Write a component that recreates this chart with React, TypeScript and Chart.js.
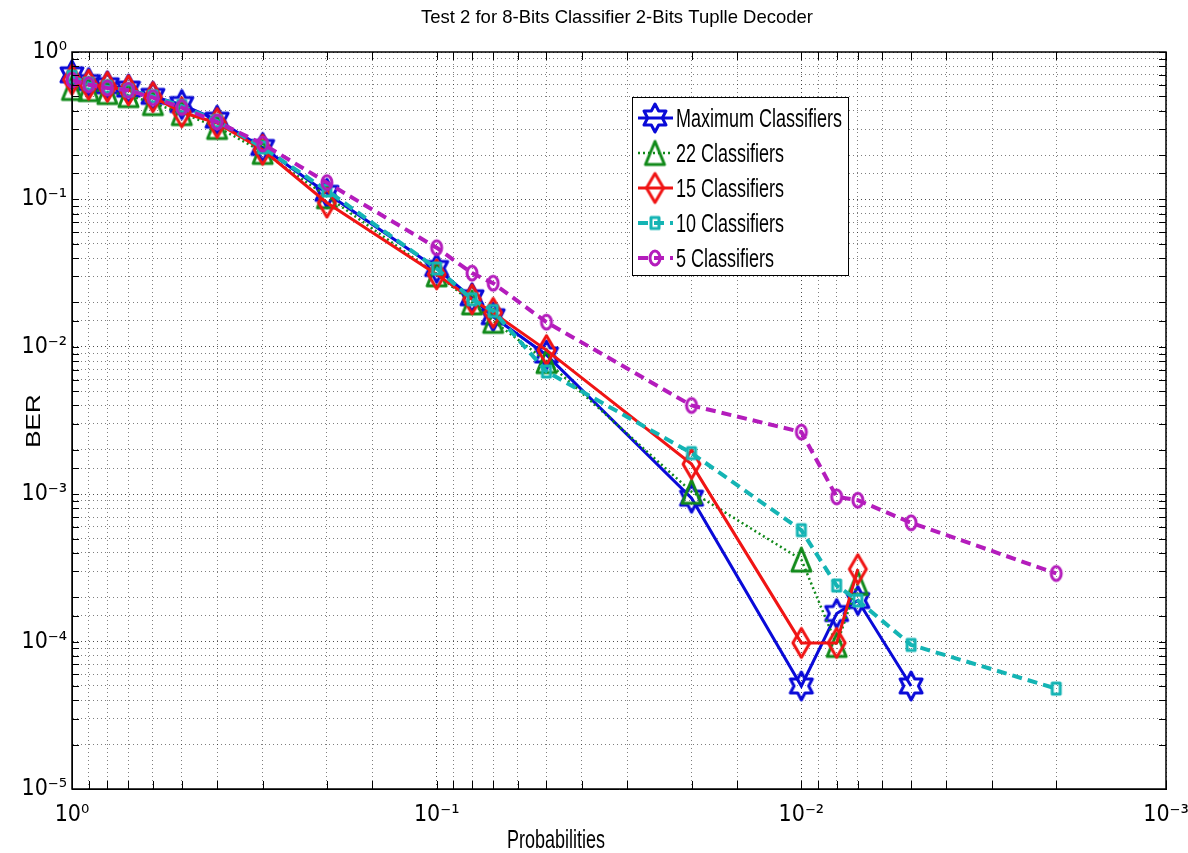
import React, { useEffect, useRef } from "react";
import { Chart, registerables } from "chart.js";

Chart.register(...registerables);

// ---------------- data ----------------
const probabilities = [1, 0.9, 0.8, 0.7, 0.6, 0.5, 0.4, 0.3, 0.2, 0.1, 0.08, 0.07, 0.05, 0.02, 0.01, 0.008, 0.007, 0.005, 0.002];
const berMaximum = [0.7, 0.62, 0.59, 0.56, 0.5, 0.44, 0.345, 0.225, 0.11, 0.034, 0.0215, 0.016, 0.0088, 0.00094, 0.00005, 0.000155, 0.00019, 0.00005];
const ber22 = [0.57, 0.56, 0.535, 0.51, 0.45, 0.385, 0.31, 0.21, 0.105, 0.031, 0.02, 0.015, 0.008, 0.00104, 0.00036, 0.000095, 0.00025];
const ber15 = [0.65, 0.6, 0.58, 0.55, 0.495, 0.39, 0.33, 0.217, 0.095, 0.031, 0.021, 0.017, 0.0095, 0.0016, 0.000098, 0.000098, 0.00031];
const ber10 = [0.68, 0.61, 0.58, 0.55, 0.5, 0.43, 0.34, 0.225, 0.115, 0.034, 0.021, 0.0175, 0.0068, 0.0019, 0.00057, 0.00024, 0.00019, 0.000095, 0.000048];
const ber5 = [0.645, 0.6, 0.57, 0.55, 0.49, 0.42, 0.335, 0.238, 0.13, 0.047, 0.0316, 0.027, 0.0147, 0.004, 0.00264, 0.00096, 0.00091, 0.00064, 0.00029];
const seriesLabels = ["Maximum Classifiers", "22 Classifiers", "15 Classifiers", "10 Classifiers", "5 Classifiers"];
const chartTitle = "Test 2 for 8-Bits Classifier 2-Bits Tuplle Decoder";
const xAxisTitle = "Probabilities";
const yAxisTitle = "BER";

// ---------------- styles ----------------
const SANS = '"Liberation Sans", Arial, Helvetica, sans-serif';
const NARROW = '"Liberation Sans Narrow", "DejaVu Sans Condensed", "Liberation Sans", Arial, sans-serif';

const seriesStyles = [
  { color: "#0a0ad8", width: 3, dash: [] as number[], marker: "hexagram", mw: 22, mh: 28 },
  { color: "#118a1a", width: 2.5, dash: [2, 3], marker: "triangle", mw: 19, mh: 23 },
  { color: "#f01414", width: 3, dash: [] as number[], marker: "diamond", mw: 17, mh: 29 },
  { color: "#14b4b4", width: 4, dash: [10, 6], marker: "square", mw: 8, mh: 11 },
  { color: "#b41cbc", width: 4, dash: [10, 6], marker: "circle", mw: 10, mh: 14 },
];

function makeMarker(kind: string, color: string, w: number, h: number, lw: number) {
  const pad = Math.ceil(lw) + 2;
  const c = document.createElement("canvas");
  c.width = Math.round(w + pad * 2);
  c.height = Math.round(h + pad * 2);
  const g = c.getContext("2d")!;
  g.translate(c.width / 2, c.height / 2);
  g.strokeStyle = color;
  g.lineWidth = lw;
  g.lineJoin = "round";
  g.beginPath();
  if (kind === "hexagram") {
    const R = h / 2;
    const sx = w / 2 / (R * Math.cos(Math.PI / 6));
    for (let i = 0; i < 12; i++) {
      const a = -Math.PI / 2 + (i * Math.PI) / 6;
      const r = i % 2 === 0 ? R : R / Math.sqrt(3);
      const x = Math.cos(a) * r * sx;
      const y = Math.sin(a) * r;
      if (i === 0) g.moveTo(x, y);
      else g.lineTo(x, y);
    }
    g.closePath();
  } else if (kind === "triangle") {
    g.moveTo(0, -h / 2);
    g.lineTo(w / 2, h / 2);
    g.lineTo(-w / 2, h / 2);
    g.closePath();
  } else if (kind === "diamond") {
    g.moveTo(0, -h / 2);
    g.lineTo(w / 2, 0);
    g.lineTo(0, h / 2);
    g.lineTo(-w / 2, 0);
    g.closePath();
  } else if (kind === "square") {
    g.rect(-w / 2, -h / 2, w, h);
  } else {
    g.ellipse(0, 0, w / 2, h / 2, 0, 0, Math.PI * 2);
  }
  g.stroke();
  return c;
}

const SUP: Record<string, string> = {
  "-": "\u207B", "0": "\u2070", "1": "\u00B9", "2": "\u00B2", "3": "\u00B3",
  "4": "\u2074", "5": "\u2075", "6": "\u2076", "7": "\u2077", "8": "\u2078", "9": "\u2079",
};
function isDecade(v: number) {
  const l = Math.log10(v);
  return Math.abs(l - Math.round(l)) < 1e-6;
}
function powLabel(v: number) {
  if (!isDecade(v)) return "";
  const e = String(Math.round(Math.log10(v)));
  return "10" + e.split("").map((ch) => SUP[ch] || ch).join("");
}

function drawText(ctx: CanvasRenderingContext2D, text: string, x: number, y: number, font: string, sx: number, align: CanvasTextAlign, rot = 0) {
  ctx.save();
  ctx.font = font;
  ctx.fillStyle = "#000";
  ctx.textAlign = align;
  ctx.textBaseline = "alphabetic";
  ctx.translate(x, y);
  if (rot) ctx.rotate(rot);
  if (rot) ctx.scale(1, sx);
  else ctx.scale(sx, 1);
  ctx.fillText(text, 0, 0);
  ctx.restore();
}

export default function App() {
  const ref = useRef<HTMLCanvasElement>(null);

  useEffect(() => {
    document.body.style.margin = "0";
    const canvas = ref.current!;
    const markers = seriesStyles.map((s) => makeMarker(s.marker, s.color, s.mw, s.mh, 3));
    const seriesValues = [berMaximum, ber22, ber15, ber10, ber5];

    const datasets = seriesValues.map((vals, k) => ({
      label: seriesLabels[k],
      data: vals.map((v, i) => ({ x: probabilities[i], y: v })),
      borderColor: seriesStyles[k].color,
      backgroundColor: seriesStyles[k].color,
      borderWidth: seriesStyles[k].width,
      borderDash: seriesStyles[k].dash,
      pointStyle: markers[k] as any,
      pointRadius: 10,
      pointHoverRadius: 10,
      tension: 0,
      fill: false,
      clip: false as any,
      order: 5 - k,
    }));

    const frame = {
      id: "matlabFrame",
      beforeDraw(chart: any) {
        const c = chart.ctx;
        c.save();
        c.fillStyle = "#fff";
        c.fillRect(0, 0, chart.width, chart.height);
        c.restore();
      },
      afterDraw(chart: any) {
        const c: CanvasRenderingContext2D = chart.ctx;
        const { left, right, top, bottom } = chart.chartArea;
        const xs = chart.scales.x;
        const ys = chart.scales.y;
        c.save();
        // inner tick marks
        c.strokeStyle = "#000";
        c.lineWidth = 1;
        c.beginPath();
        xs.ticks.forEach((t: any) => {
          const px = Math.round(xs.getPixelForValue(t.value)) + 0.5;
          c.moveTo(px, bottom);
          c.lineTo(px, bottom - 8);
          c.moveTo(px, top);
          c.lineTo(px, top + 8);
        });
        ys.ticks.forEach((t: any) => {
          const py = Math.round(ys.getPixelForValue(t.value)) + 0.5;
          c.moveTo(left, py);
          c.lineTo(left + 7, py);
          c.moveTo(right, py);
          c.lineTo(right - 7, py);
        });
        c.stroke();
        // box
        c.lineWidth = 1.5;
        c.strokeRect(left, top, right - left, bottom - top);

        // legend
        const lx = 632, ly = 97, lw = 216, lh = 178;
        c.fillStyle = "#fff";
        c.fillRect(lx, ly, lw, lh);
        c.lineWidth = 1;
        c.strokeStyle = "#000";
        c.strokeRect(lx + 0.5, ly + 0.5, lw, lh);
        seriesLabels.forEach((name, k) => {
          const st = seriesStyles[k];
          const cy = 118 + k * 35;
          c.save();
          c.strokeStyle = st.color;
          c.lineWidth = st.width;
          c.setLineDash(st.dash);
          c.beginPath();
          c.moveTo(638, cy);
          c.lineTo(673, cy);
          c.stroke();
          c.restore();
          const m = markers[k];
          c.drawImage(m, 655 - m.width / 2, cy - m.height / 2);
          drawText(c, name, 676, cy + 9, `25px ${SANS}`, 0.72, "left");
        });
        c.restore();

        // titles
        drawText(c, chartTitle, 617, 23, `18.5px ${SANS}`, 1, "center");
        drawText(c, xAxisTitle, 556, 848, `25px ${SANS}`, 0.72, "center");
        drawText(c, yAxisTitle, 40, 421, `26px ${SANS}`, 0.75, "center", -Math.PI / 2);
      },
    };

    const gridColor = (ctx: any) =>
      ctx.tick && isDecade(ctx.tick.value) ? "rgba(0,0,0,0.7)" : "rgba(0,0,0,0.5)";

    const chart = new Chart(canvas, {
      type: "line",
      data: { datasets: datasets as any },
      options: {
        animation: false,
        responsive: false,
        maintainAspectRatio: false,
        parsing: false as any,
        normalized: true,
        layout: { padding: { top: 52, right: 22, left: 0, bottom: 0 } },
        plugins: {
          legend: { display: false },
          title: { display: false },
          tooltip: { enabled: false },
        },
        events: [],
        scales: {
          x: {
            type: "logarithmic",
            reverse: true,
            min: 0.001,
            max: 1,
            afterFit: (s: any) => {
              s.height = 64;
              s.paddingLeft = 0;
              s.paddingRight = 0;
            },
            grid: { color: gridColor, lineWidth: 1, drawTicks: false },
            border: { display: true, color: "#000", width: 1, dash: [1, 3] },
            ticks: {
              autoSkip: false,
              maxRotation: 0,
              minRotation: 0,
              padding: 12,
              color: "#000",
              font: { family: NARROW, size: 23 },
              callback: (v: any) => powLabel(Number(v)),
            },
          },
          y: {
            type: "logarithmic",
            min: 0.00001,
            max: 1,
            afterFit: (s: any) => {
              s.width = 72;
              s.paddingTop = 0;
              s.paddingBottom = 0;
            },
            grid: { color: gridColor, lineWidth: 1, drawTicks: false },
            border: { display: true, color: "#000", width: 1, dash: [1, 3] },
            ticks: {
              autoSkip: false,
              padding: 5,
              color: "#000",
              font: { family: NARROW, size: 23 },
              callback: (v: any) => powLabel(Number(v)),
            },
          },
        },
      } as any,
      plugins: [frame],
    });

    return () => chart.destroy();
  }, []);

  return (
    <div style={{ width: 1188, height: 853 }}>
      <canvas ref={ref} width={1188} height={853} style={{ display: "block" }} />
    </div>
  );
}
